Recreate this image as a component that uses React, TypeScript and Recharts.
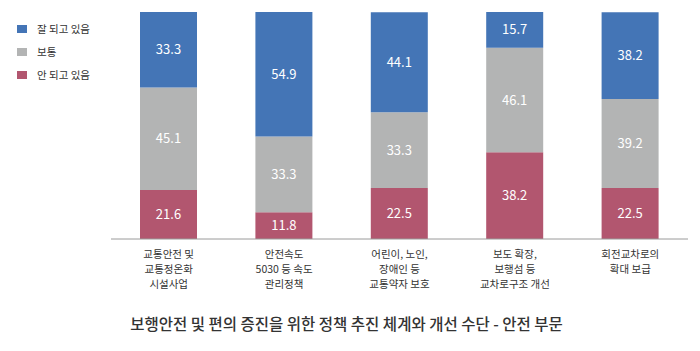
import * as React from "react";
import { Bar, BarChart, LabelList, XAxis, YAxis } from "recharts";

const categories = [
  "교통안전 및\n교통정온화\n시설사업",
  "안전속도\n5030 등 속도\n관리정책",
  "어린이, 노인,\n장애인 등\n교통약자 보호",
  "보도 확장,\n보행섬 등\n교차로구조 개선",
  "회전교차로의\n확대 보급",
];

const notDone = [21.6, 11.8, 22.5, 38.2, 22.5];
const normal = [45.1, 33.3, 33.3, 46.1, 39.2];
const wellDone = [33.3, 54.9, 44.1, 15.7, 38.2];

const series = [
  { key: "wellDone", label: "잘 되고 있음", color: "#4475b6" },
  { key: "normal", label: "보통", color: "#b3b4b4" },
  { key: "notDone", label: "안 되고 있음", color: "#b2566f" },
];

const title = "보행안전 및 편의 증진을 위한 정책 추진 체계와 개선 수단 - 안전 부문";

const FONT = '"Noto Sans CJK KR", "Noto Sans", sans-serif';

const data = categories.map((name, i) => ({
  name,
  notDone: notDone[i],
  normal: normal[i],
  wellDone: wellDone[i],
}));

function CategoryTick(props: any) {
  const { x, y, payload } = props;
  const lines = String(payload.value).split("\n");
  return (
    <text x={x} y={y} textAnchor="middle" fill="#333" fontSize={10.5} fontFamily={FONT}>
      {lines.map((line, i) => (
        <tspan key={i} x={x} dy={i === 0 ? 11 : 15}>
          {line}
        </tspan>
      ))}
    </text>
  );
}

export default function App() {
  return (
    <div
      style={{
        position: "fixed",
        left: 0,
        top: 0,
        width: 700,
        height: 351,
        background: "#fff",
        fontFamily: FONT,
      }}
    >
      <div style={{ position: "absolute", left: 17, top: 17 }}>
        {series.map((s) => (
          <div
            key={s.key}
            style={{ display: "flex", alignItems: "center", height: 23, fontSize: 10.5, color: "#333" }}
          >
            <span style={{ width: 10, height: 8, background: s.color, marginRight: 10 }} />
            <span>{s.label}</span>
          </div>
        ))}
      </div>
      <BarChart
        width={700}
        height={351}
        data={data}
        margin={{ top: 12, right: 12, left: 111, bottom: 0 }}
        barSize={57}
      >
        <XAxis
          dataKey="name"
          height={112}
          interval={0}
          tickLine={false}
          axisLine={{ stroke: "#9a9a9a" }}
          tick={<CategoryTick />}
        />
        <YAxis hide domain={[0, 100]} />
        {[...series].reverse().map((s) => (
          <Bar key={s.key} dataKey={s.key} stackId="a" fill={s.color} isAnimationActive={false}>
            <LabelList
              dataKey={s.key}
              position="center"
              fill="#fff"
              fontSize={13}
              fontFamily={FONT}
              formatter={(v: any) => Number(v).toFixed(1)}
            />
          </Bar>
        ))}
      </BarChart>
      <div
        style={{
          position: "absolute",
          left: 0,
          top: 312,
          width: 693,
          textAlign: "center",
          fontSize: 15.5,
          fontWeight: 500,
          color: "#333",
        }}
      >
        {title}
      </div>
    </div>
  );
}
